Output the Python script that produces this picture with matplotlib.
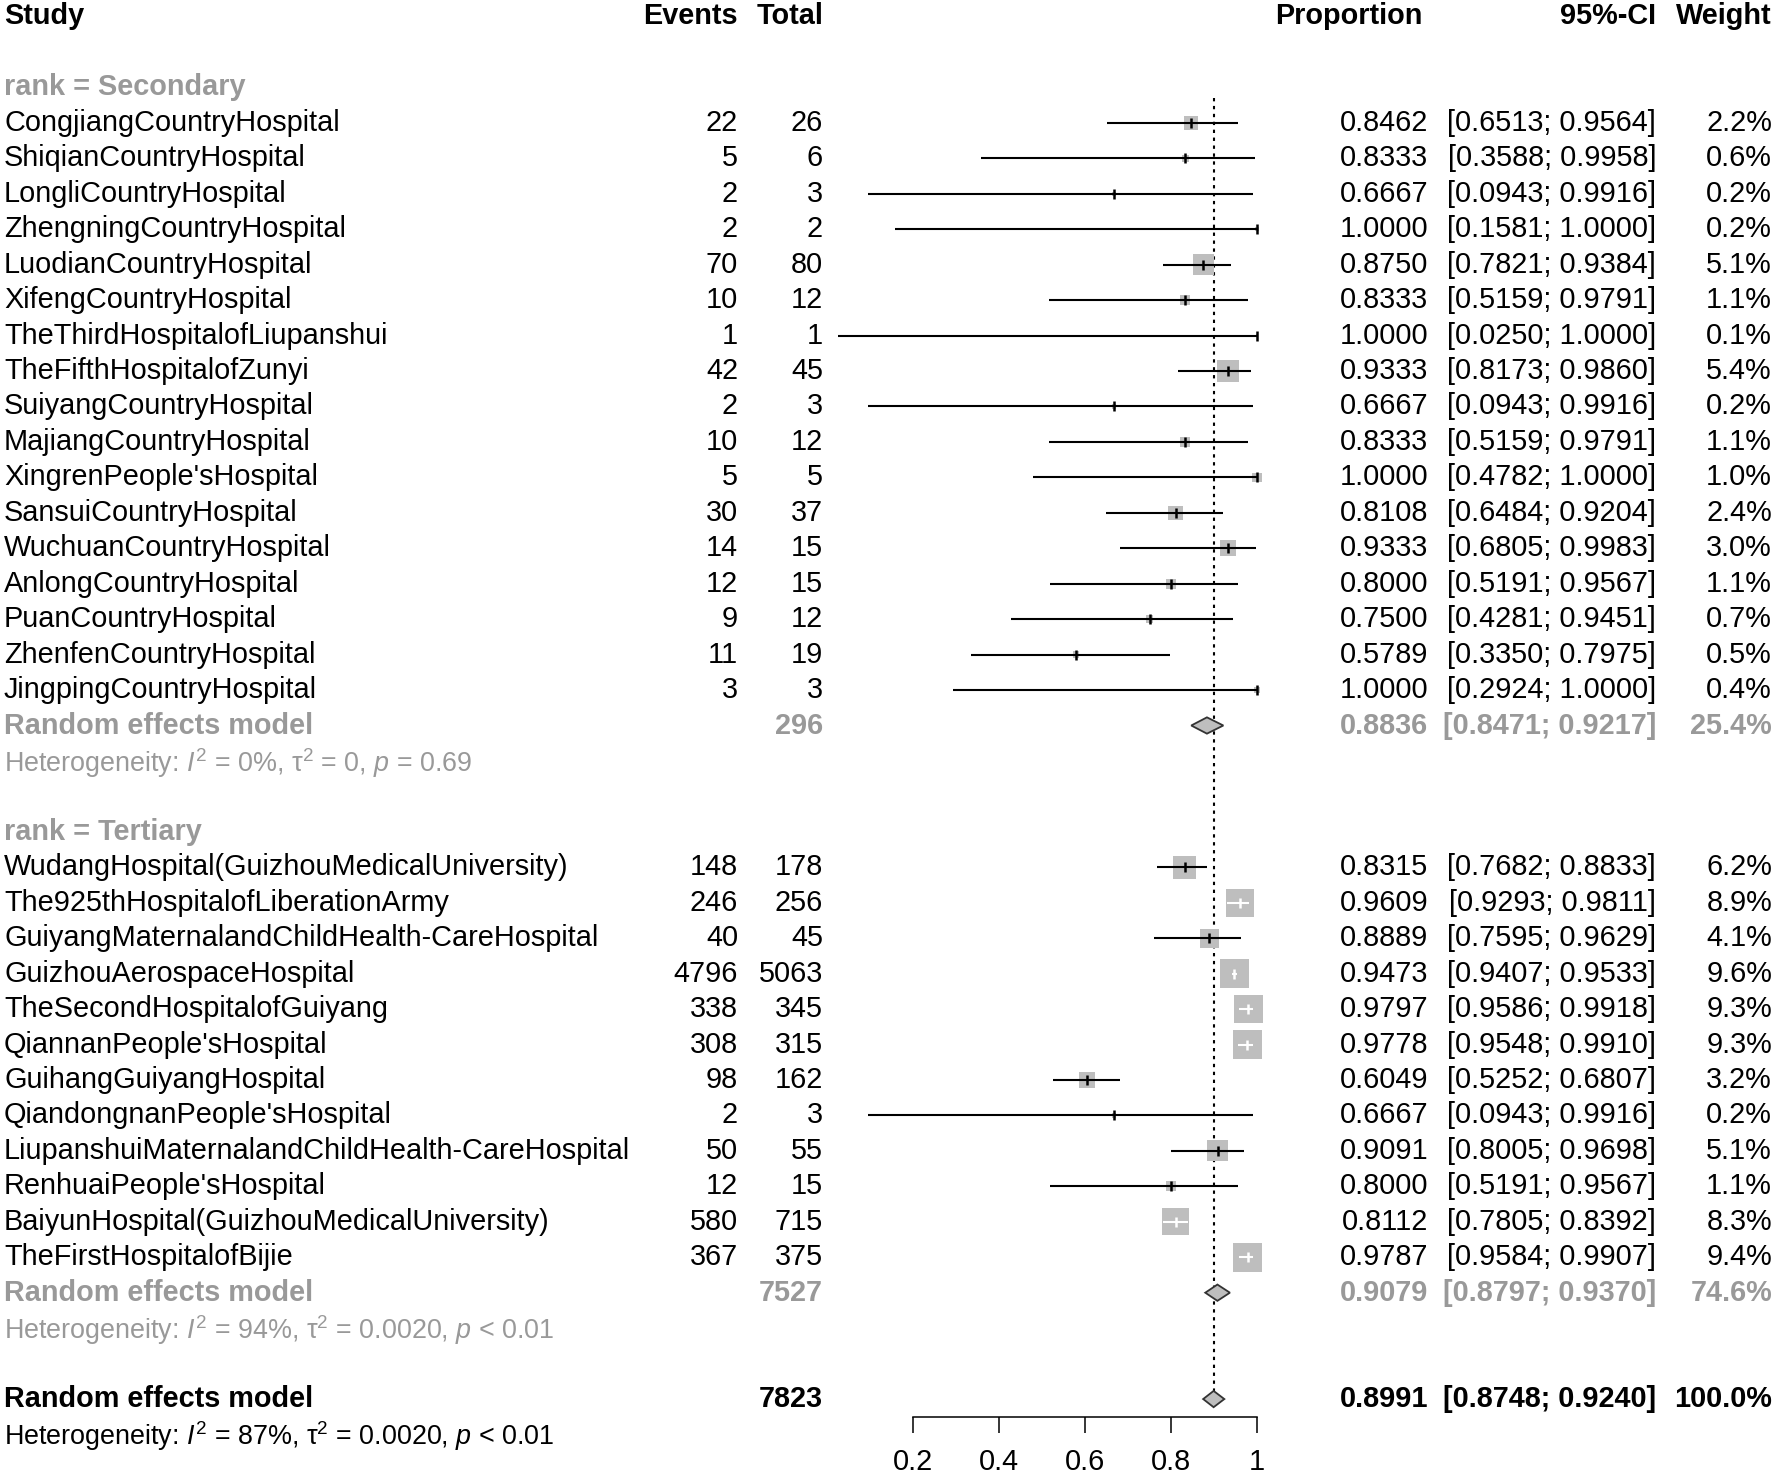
# Forest plot: proportion by hospital rank (meta-analysis, random effects)
import numpy as np
import matplotlib.pyplot as plt
from matplotlib.patches import Polygon

plt.rcParams["font.family"] = ["Liberation Sans", "DejaVu Sans"]
plt.rcParams["mathtext.fontset"] = "custom"
plt.rcParams["mathtext.rm"] = "Liberation Sans"
plt.rcParams["mathtext.it"] = "Liberation Sans:italic"
plt.rcParams["mathtext.bf"] = "Liberation Sans:bold"

# ---- data: secondary hospitals ----
sec_names = ["CongjiangCountryHospital", "ShiqianCountryHospital", "LongliCountryHospital",
             "ZhengningCountryHospital", "LuodianCountryHospital", "XifengCountryHospital",
             "TheThirdHospitalofLiupanshui", "TheFifthHospitalofZunyi", "SuiyangCountryHospital",
             "MajiangCountryHospital", "XingrenPeople'sHospital", "SansuiCountryHospital",
             "WuchuanCountryHospital", "AnlongCountryHospital", "PuanCountryHospital",
             "ZhenfenCountryHospital", "JingpingCountryHospital"]
sec_events = [22, 5, 2, 2, 70, 10, 1, 42, 2, 10, 5, 30, 14, 12, 9, 11, 3]
sec_total = [26, 6, 3, 2, 80, 12, 1, 45, 3, 12, 5, 37, 15, 15, 12, 19, 3]
sec_prop = [0.8462, 0.8333, 0.6667, 1.0000, 0.8750, 0.8333, 1.0000, 0.9333, 0.6667,
            0.8333, 1.0000, 0.8108, 0.9333, 0.8000, 0.7500, 0.5789, 1.0000]
sec_lower = [0.6513, 0.3588, 0.0943, 0.1581, 0.7821, 0.5159, 0.0250, 0.8173, 0.0943,
             0.5159, 0.4782, 0.6484, 0.6805, 0.5191, 0.4281, 0.3350, 0.2924]
sec_upper = [0.9564, 0.9958, 0.9916, 1.0000, 0.9384, 0.9791, 1.0000, 0.9860, 0.9916,
             0.9791, 1.0000, 0.9204, 0.9983, 0.9567, 0.9451, 0.7975, 1.0000]
sec_weight = [2.2, 0.6, 0.2, 0.2, 5.1, 1.1, 0.1, 5.4, 0.2, 1.1, 1.0, 2.4, 3.0, 1.1, 0.7, 0.5, 0.4]

# ---- data: tertiary hospitals ----
ter_names = ["WudangHospital(GuizhouMedicalUniversity)", "The925thHospitalofLiberationArmy",
             "GuiyangMaternalandChildHealth-CareHospital", "GuizhouAerospaceHospital",
             "TheSecondHospitalofGuiyang", "QiannanPeople'sHospital", "GuihangGuiyangHospital",
             "QiandongnanPeople'sHospital", "LiupanshuiMaternalandChildHealth-CareHospital",
             "RenhuaiPeople'sHospital", "BaiyunHospital(GuizhouMedicalUniversity)",
             "TheFirstHospitalofBijie"]
ter_events = [148, 246, 40, 4796, 338, 308, 98, 2, 50, 12, 580, 367]
ter_total = [178, 256, 45, 5063, 345, 315, 162, 3, 55, 15, 715, 375]
ter_prop = [0.8315, 0.9609, 0.8889, 0.9473, 0.9797, 0.9778, 0.6049, 0.6667, 0.9091,
            0.8000, 0.8112, 0.9787]
ter_lower = [0.7682, 0.9293, 0.7595, 0.9407, 0.9586, 0.9548, 0.5252, 0.0943, 0.8005,
             0.5191, 0.7805, 0.9584]
ter_upper = [0.8833, 0.9811, 0.9629, 0.9533, 0.9918, 0.9910, 0.6807, 0.9916, 0.9698,
             0.9567, 0.8392, 0.9907]
ter_weight = [6.2, 8.9, 4.1, 9.6, 9.3, 9.3, 3.2, 0.2, 5.1, 1.1, 8.3, 9.4]

# ---- pooled estimates: secondary, tertiary, overall ----
pool_labels = ["Random effects model", "Random effects model", "Random effects model"]
pool_total = [296, 7527, 7823]
pool_prop = [0.8836, 0.9079, 0.8991]
pool_lower = [0.8471, 0.8797, 0.8748]
pool_upper = [0.9217, 0.9370, 0.9240]
pool_weight = [25.4, 74.6, 100.0]
het_text = [r"Heterogeneity: $I^2$ = 0%, $\mathrm{\tau}^2$ = 0, $p$ = 0.69",
            r"Heterogeneity: $I^2$ = 94%, $\mathrm{\tau}^2$ = 0.0020, $p$ < 0.01",
            r"Heterogeneity: $I^2$ = 87%, $\mathrm{\tau}^2$ = 0.0020, $p$ < 0.01"]
group_titles = ["rank = Secondary", "rank = Tertiary"]

# ---- layout ----
W, H = 1776, 1480
ROW0, ROWH = 16.5, 35.45         # pixel centre of header row, row height
FS, FS_HET = 20.8, 19.4
GREY_TXT = "#999999"
BOX = "#bebebe"
X_STUDY, X_EVENTS, X_TOTAL = 4, 738, 823
X_PROP, X_CI, X_WEIGHT = 1428, 1656, 1772
PX_PER_UNIT = 430                # forest x scale (0.2 -> 913 px, 1 -> 1257 px)
F_LEFT, F_RIGHT = 0.0, 1.05

ylim = ((H - ROW0) / ROWH, -ROW0 / ROWH)

fig = plt.figure(figsize=(W / 100, H / 100), dpi=100, facecolor="white")
ax = fig.add_axes([0, 0, 1, 1])
ax.set_xlim(0, W)
ax.set_ylim(*ylim)
ax.axis("off")

x0_px = 913 - 0.2 * PX_PER_UNIT
axf = fig.add_axes([x0_px / W, 0, (F_RIGHT - F_LEFT) * PX_PER_UNIT / W, 1])
axf.set_xlim(F_LEFT, F_RIGHT)
axf.set_ylim(*ylim)
axf.patch.set_visible(False)
for s in ["top", "right", "left"]:
    axf.spines[s].set_visible(False)

# header
for x, t, ha in [(X_STUDY, "Study", "left"), (X_EVENTS, "Events", "right"),
                 (X_TOTAL, "Total", "right"), (1422, "Proportion", "right"),
                 (X_CI, "95%-CI", "right"), (X_WEIGHT, "Weight", "right")]:
    ax.text(x, 0, t, ha=ha, va="center", fontsize=FS, fontweight="bold")


def study_row(y, name, ev, tot, p, lo, hi, w):
    ax.text(X_STUDY, y, name, ha="left", va="center", fontsize=FS)
    ax.text(X_EVENTS, y, str(ev), ha="right", va="center", fontsize=FS)
    ax.text(X_TOTAL, y, str(tot), ha="right", va="center", fontsize=FS)
    ax.text(X_PROP, y, f"{p:.4f}", ha="right", va="center", fontsize=FS)
    ax.text(X_CI, y, f"[{lo:.4f}; {hi:.4f}]", ha="right", va="center", fontsize=FS)
    ax.text(X_WEIGHT, y, f"{w:.1f}%", ha="right", va="center", fontsize=FS)
    side_px = 9.36 * np.sqrt(w)
    axf.scatter([p], [y], marker="s", s=(side_px * 0.72) ** 2, color=BOX,
                edgecolors="none", zorder=2)
    half = side_px / 2 / PX_PER_UNIT
    inside = (p - lo) <= half and (hi - p) <= half
    col = "white" if inside else "black"
    axf.plot([lo, hi], [y, y], color=col, lw=1.5, zorder=3, solid_capstyle="butt")
    axf.vlines(p, y - 0.14, y + 0.14, color=col, lw=1.8, zorder=3)


def pooled_row(y, i, color):
    ax.text(X_STUDY, y, pool_labels[i], ha="left", va="center", fontsize=FS,
            fontweight="bold", color=color)
    ax.text(X_TOTAL, y, str(pool_total[i]), ha="right", va="center", fontsize=FS,
            fontweight="bold", color=color)
    ax.text(X_PROP, y, f"{pool_prop[i]:.4f}", ha="right", va="center", fontsize=FS,
            fontweight="bold", color=color)
    ax.text(X_CI, y, f"[{pool_lower[i]:.4f}; {pool_upper[i]:.4f}]", ha="right",
            va="center", fontsize=FS, fontweight="bold", color=color)
    ax.text(X_WEIGHT, y, f"{pool_weight[i]:.1f}%", ha="right", va="center",
            fontsize=FS, fontweight="bold", color=color)
    h = 0.23
    diamond = Polygon([(pool_lower[i], y), (pool_prop[i], y - h),
                       (pool_upper[i], y), (pool_prop[i], y + h)],
                      closed=True, facecolor=BOX, edgecolor="#333333", lw=1.3, zorder=4)
    axf.add_patch(diamond)
    ax.text(X_STUDY, y + 1.05, het_text[i], ha="left", va="center", fontsize=FS_HET,
            color=color)


groups = [(sec_names, sec_events, sec_total, sec_prop, sec_lower, sec_upper, sec_weight),
          (ter_names, ter_events, ter_total, ter_prop, ter_lower, ter_upper, ter_weight)]

row = 2
for g, data in enumerate(groups):
    ax.text(X_STUDY, row, group_titles[g], ha="left", va="center", fontsize=FS,
            fontweight="bold", color=GREY_TXT)
    row += 1
    for rec in zip(*data):
        study_row(row, *rec)
        row += 1
    pooled_row(row, g, GREY_TXT)
    row += 3

overall_row = row
pooled_row(overall_row, 2, "black")

# reference line at overall estimate
axf.vlines(pool_prop[2], 2.3, overall_row - 0.23, color="black", lw=1.5,
           linestyles=(0, (1.6, 2.2)), zorder=1)

# x axis
axf.spines["bottom"].set_position(("data", overall_row + 0.5))
axf.spines["bottom"].set_bounds(0.2, 1.0)
axf.spines["bottom"].set_linewidth(1.1)
axf.set_xticks([0.2, 0.4, 0.6, 0.8, 1.0])
axf.set_xticklabels(["0.2", "0.4", "0.6", "0.8", "1"])
axf.tick_params(axis="x", direction="out", length=11.5, width=1.1, labelsize=FS, pad=11)
axf.set_yticks([])

fig.savefig("out.png", dpi=100, facecolor="white")
